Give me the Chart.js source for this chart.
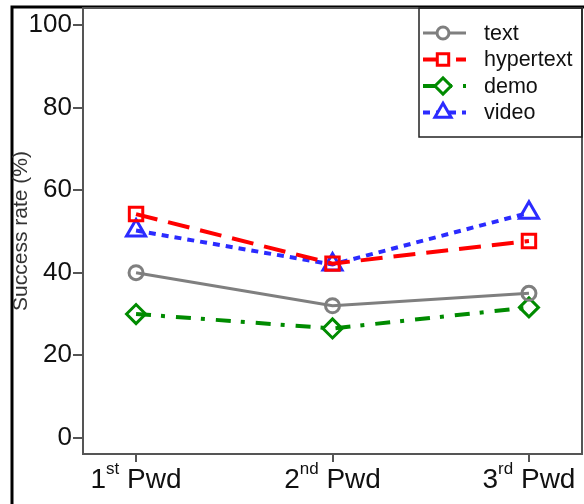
<!DOCTYPE html>
<html>
<head>
<meta charset="utf-8">
<script src="https://cdn.jsdelivr.net/npm/chart.js@4.4.1/dist/chart.umd.min.js"></script>
<style>
  html, body { margin: 0; padding: 0; background: #fff; }
  #wrap { width: 584px; height: 504px; position: relative; }
</style>
</head>
<body>
<div id="wrap"><canvas id="rateChart"></canvas></div>
<script>
// values
const pwdNumbers = ['1', '2', '3'];
const pwdSuffixes = ['st', 'nd', 'rd'];
const textRates = [40, 32, 35];
const hypertextRates = [54.2, 42.2, 47.7];
const demoRates = [30, 26.5, 31.6];
const videoRates = [50.2, 42, 54.5];
const yTicks = [0, 20, 40, 60, 80, 100];
const seriesNames = ['text', 'hypertext', 'demo', 'video'];

const FONT = "'Liberation Sans', Arial, Helvetica, sans-serif";

function toPoints(values) {
  return values.map((v, i) => ({ x: i, y: v }));
}

function noPadding(s) {
  s.paddingTop = 0;
  s.paddingBottom = 0;
  s.paddingLeft = 0;
  s.paddingRight = 0;
}

// white page with the black frame at top and left
const framePlugin = {
  id: 'frame',
  beforeDraw(chart) {
    const ctx = chart.ctx;
    ctx.save();
    ctx.fillStyle = '#fff';
    ctx.fillRect(0, 0, chart.width, chart.height);
    ctx.strokeStyle = '#000';
    ctx.lineWidth = 3;
    ctx.beginPath();
    ctx.moveTo(12, chart.height);
    ctx.lineTo(12, 7);
    ctx.lineTo(chart.width, 7);
    ctx.stroke();
    ctx.restore();
  }
};

// box round the plot region
const boxPlugin = {
  id: 'plotBox',
  beforeDatasetsDraw(chart) {
    const { ctx, chartArea: a } = chart;
    ctx.save();
    ctx.strokeStyle = '#555';
    ctx.lineWidth = 2;
    ctx.strokeRect(a.left, a.top, a.right - a.left, a.bottom - a.top);
    ctx.restore();
  }
};

// x labels with superscript ordinals
const pwdLabelPlugin = {
  id: 'pwdLabels',
  afterDraw(chart) {
    const ctx = chart.ctx;
    const xs = chart.scales.x;
    const base = 488;
    ctx.save();
    ctx.fillStyle = '#111';
    ctx.textBaseline = 'alphabetic';
    ctx.textAlign = 'left';
    pwdNumbers.forEach((num, i) => {
      const big = '28px ' + FONT;
      const small = '17px ' + FONT;
      ctx.font = big;
      const wNum = ctx.measureText(num).width;
      const wPwd = ctx.measureText(' Pwd').width;
      ctx.font = small;
      const wSup = ctx.measureText(pwdSuffixes[i]).width;
      const total = wNum + wSup + wPwd;
      let x = xs.getPixelForValue(i) - total / 2;
      ctx.font = big;
      ctx.fillText(num, x, base);
      x += wNum;
      ctx.font = small;
      ctx.fillText(pwdSuffixes[i], x, base - 14);
      x += wSup;
      ctx.font = big;
      ctx.fillText(' Pwd', x, base);
    });
    ctx.restore();
  }
};

// legend box in the top right corner
const legendBoxPlugin = {
  id: 'legendBox',
  afterDraw(chart) {
    const ctx = chart.ctx;
    const a = chart.chartArea;
    ctx.save();
    ctx.strokeStyle = '#222';
    ctx.lineWidth = 1.5;
    ctx.strokeRect(419, a.top, a.right - 419, 137 - a.top);
    chart.data.datasets.forEach((ds, i) => {
      const y = 33 + i * 26.5;
      ctx.strokeStyle = ds.borderColor;
      ctx.lineWidth = ds.borderWidth;
      ctx.setLineDash(ds.borderDash || []);
      ctx.beginPath();
      ctx.moveTo(423, y);
      ctx.lineTo(466, y);
      ctx.stroke();
      ctx.setLineDash([]);
      ctx.fillStyle = '#fff';
      ctx.lineWidth = ds.pointBorderWidth;
      Chart.helpers.drawPoint(ctx, {
        pointStyle: ds.pointStyle,
        radius: ds.pointRadius * 0.85,
        rotation: 0,
        borderWidth: ds.pointBorderWidth
      }, 443, y);
      ctx.fillStyle = '#111';
      ctx.font = '21.5px ' + FONT;
      ctx.textBaseline = 'middle';
      ctx.fillText(ds.label, 484, y + 1);
    });
    ctx.restore();
  }
};

const styles = [
  { color: '#7f7f7f', dash: [], width: 3, point: 'circle', radius: 7 },
  { color: '#ff0000', dash: [22, 11], width: 4, point: 'rect', radius: 9.5 },
  { color: '#008b00', dash: [15, 10, 4, 11], width: 4, point: 'rectRot', radius: 9.5 },
  { color: '#2b2bff', dash: [7, 6], width: 4, point: 'triangle', radius: 11 }
];
const seriesValues = [textRates, hypertextRates, demoRates, videoRates];

const datasets = seriesNames.map((name, i) => ({
  label: name,
  data: toPoints(seriesValues[i]),
  borderColor: styles[i].color,
  borderWidth: styles[i].width,
  borderDash: styles[i].dash,
  pointStyle: styles[i].point,
  pointRadius: styles[i].radius,
  pointBorderWidth: 3,
  pointBackgroundColor: 'rgba(255,255,255,0)',
  pointBorderColor: styles[i].color,
  fill: false,
  tension: 0
}));

new Chart(document.getElementById('rateChart'), {
  type: 'line',
  data: { datasets },
  options: {
    responsive: true,
    maintainAspectRatio: false,
    animation: false,
    layout: { autoPadding: false, padding: { top: 8, right: 2, left: 0, bottom: 0 } },
    plugins: { legend: { display: false }, tooltip: { enabled: false } },
    scales: {
      x: {
        type: 'linear',
        min: -0.27,
        max: 2.27,
        afterBuildTicks: s => { s.ticks = pwdNumbers.map((n, i) => ({ value: i })); },
        afterFit: s => { s.height = 50; noPadding(s); },
        ticks: { display: false },
        grid: { drawOnChartArea: false, drawTicks: true, tickLength: 8, color: '#555', lineWidth: 2 },
        border: { color: '#555', width: 2 }
      },
      y: {
        min: -3.9,
        max: 104.1,
        afterBuildTicks: s => { s.ticks = yTicks.map(v => ({ value: v })); },
        afterFit: s => { s.width = 83; noPadding(s); },
        ticks: { color: '#111', font: { size: 26, family: FONT }, padding: 1 },
        grid: { drawOnChartArea: false, drawTicks: true, tickLength: 10, color: '#555', lineWidth: 2 },
        border: { color: '#555', width: 2 },
        title: {
          display: true,
          text: 'Success rate (%)',
          color: '#333',
          font: { size: 21, family: FONT },
          padding: { top: 9, bottom: 0 }
        }
      }
    }
  },
  plugins: [framePlugin, boxPlugin, pwdLabelPlugin, legendBoxPlugin]
});
</script>
</body>
</html>
